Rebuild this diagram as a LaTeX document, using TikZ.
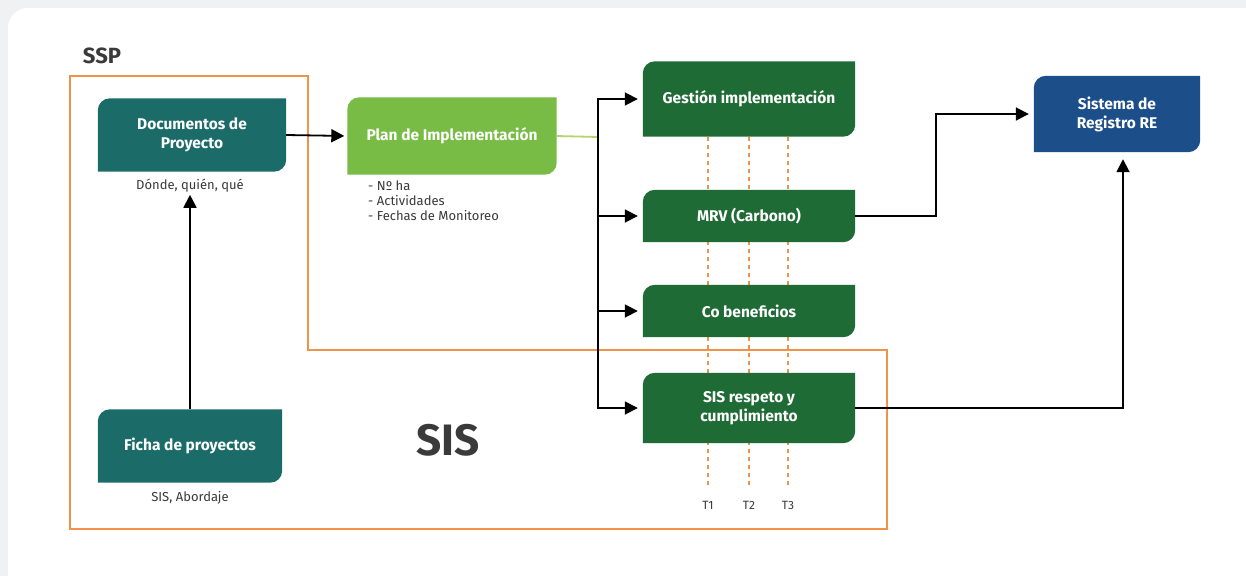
\documentclass[tikz,border=0pt]{standalone}
\usepackage{fontspec}
\setmainfont{Fira Sans}
\usetikzlibrary{calc,arrows.meta,positioning}

\definecolor{pagegrey}{HTML}{F0F1F3}
\definecolor{tealbox}{HTML}{1B6C69}
\definecolor{darkbox}{HTML}{1F6B35}
\definecolor{lightbox}{HTML}{78BB45}
\definecolor{limeline}{HTML}{B5D46C}
\definecolor{bluebox}{HTML}{1C4E8A}
\definecolor{frameorange}{HTML}{F0924A}
\definecolor{textgrey}{HTML}{3A3A3A}

\pgfdeclarelayer{panel}
\pgfdeclarelayer{bg}
\pgfsetlayers{panel,bg,main}

\newcommand{\leafr}{12pt}
% box with rounded top-left and bottom-right corners
\newcommand{\leafshape}[2]{%
  \fill[#2] (#1.south west) -- ([yshift=-\leafr]#1.north west)
    arc[start angle=180,end angle=90,radius=\leafr] -- (#1.north east)
    -- ([yshift=\leafr]#1.south east)
    arc[start angle=0,end angle=-90,radius=\leafr] -- cycle;}

\tikzset{
  boxtext/.style={text=white,font=\fontsize{15.5}{19}\selectfont\bfseries,align=center,inner sep=0pt},
  note/.style={text=textgrey,font=\fontsize{13}{16}\selectfont,inner sep=0pt},
  arr/.style={black,line width=1.8pt,-{Triangle[length=13pt,width=13pt]},shorten >=5pt},
  tick/.style={frameorange,line width=2pt,dash pattern=on 4pt off 4pt}
}

\begin{document}
\begin{tikzpicture}[x=1pt,y=-1pt]
  \useasboundingbox (0,0) rectangle (1246,576);
  \begin{pgfonlayer}{panel}
    \fill[pagegrey] (0,0) rectangle (1246,576);
    \fill[white,rounded corners=20pt] (8,8) rectangle (1270,600);
  \end{pgfonlayer}

  % SSP / SIS frame
  \draw[frameorange,line width=2pt] (70,76) -- (308,76) -- (308,350) -- (887,350)
    -- (887,529) -- (70,529) -- cycle;
  \node[text=textgrey,font=\fontsize{22}{26}\selectfont\bfseries] (ssp) at (102,56) {SSP};
  \node[text=textgrey,font=\fontsize{44}{50}\selectfont\bfseries] (sis) at (448,440) {SIS};

  % boxes
  \node[boxtext,minimum width=188pt,minimum height=73pt] (doc) at (192,135) {Documentos de\\Proyecto};
  \node[boxtext,minimum width=184pt,minimum height=73pt] (ficha) at (190,446) {Ficha de proyectos};
  \node[boxtext,minimum width=209pt,minimum height=77pt] (plan) at (452,136) {Plan de Implementación};
  \node[boxtext,minimum width=212pt,minimum height=75pt] (gest) at (749,99) {Gestión implementación};
  \node[boxtext,minimum width=212pt,minimum height=52pt] (mrv) at (749,216) {MRV (Carbono)};
  \node[boxtext,minimum width=212pt,minimum height=52pt] (cob) at (749,311) {Co beneficios};
  \node[boxtext,minimum width=212pt,minimum height=70pt] (sisr) at (749,408) {SIS respeto y\\cumplimiento};
  \node[boxtext,minimum width=166pt,minimum height=76pt] (reg) at (1117,114) {Sistema de\\Registro RE};

  % notes
  \node[note] (donde) at (190,186) {Dónde, quién, qué};
  \node[note] (aborda) at (190,498) {SIS, Abordaje};
  \node[note,align=left,anchor=north west,font=\fontsize{13}{15}\selectfont] (lista) at (368,181)
    {- Nº ha\\- Actividades\\- Fechas de Monitoreo};

  % time lines
  \foreach \x/\t in {708/T1,749/T2,788/T3} {
    \node[note,font=\fontsize{12}{14}\selectfont] (\t) at (\x,505) {\t};
  }
  \begin{pgfonlayer}{bg}
    \foreach \t in {T1,T2,T3}
      \draw[tick] (\t |- gest.south) -- ([yshift=12pt]\t.north);
    \leafshape{doc}{tealbox}
    \leafshape{ficha}{tealbox}
    \leafshape{plan}{lightbox}
    \leafshape{gest}{darkbox}
    \leafshape{mrv}{darkbox}
    \leafshape{cob}{darkbox}
    \leafshape{sisr}{darkbox}
    \leafshape{reg}{bluebox}
  \end{pgfonlayer}

  % connectors
  \coordinate (split) at (598,137);
  \coordinate (bend) at (936,115);
  \draw[arr,shorten >=3pt] (doc.east) -- (plan.west);
  \draw[arr,shorten >=2pt] (ficha.north) -- (donde.south);
  \draw[limeline,line width=1.8pt] (plan.east) -- (split);
  \draw[arr] (split) |- (gest.west);
  \draw[arr] (split) |- (mrv.west);
  \draw[arr] (split) |- (cob.west);
  \draw[arr] (split) |- (sisr.west);
  \draw[arr] (mrv.east) -- (mrv.east -| bend) |- (reg.west);
  \draw[arr,shorten >=7pt] (sisr.east) -| ([xshift=6pt]reg.south);
\end{tikzpicture}
\end{document}
